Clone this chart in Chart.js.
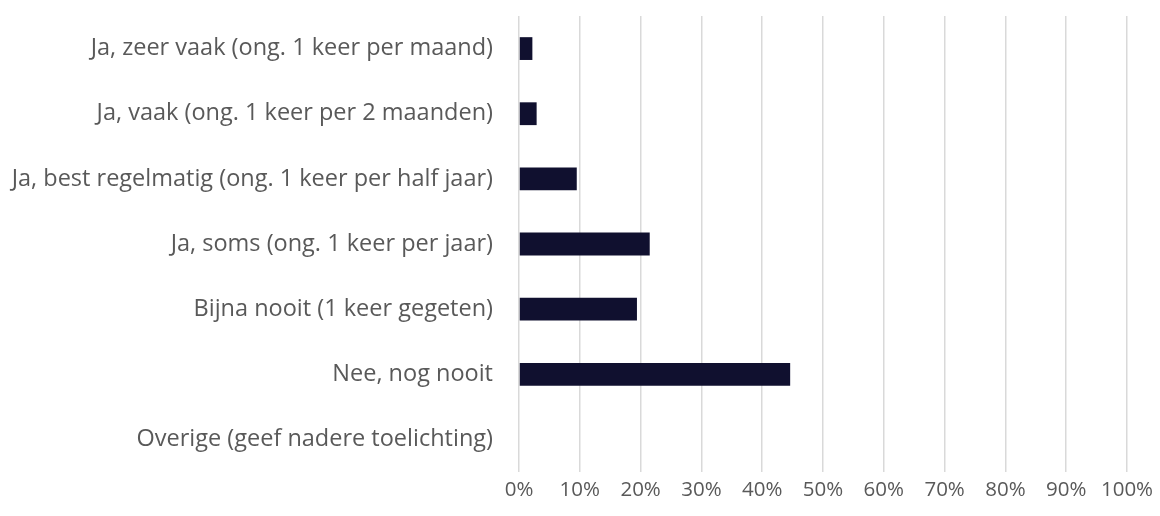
<!DOCTYPE html>
<html>
<head>
<meta charset="utf-8">
<script src="https://cdn.jsdelivr.net/npm/chart.js@4/dist/chart.umd.min.js"></script>
<style>
  html, body { margin: 0; padding: 0; background: #fff; }
  #wrap { width: 1160px; height: 516px; position: relative; }
</style>
</head>
<body>
<div id="wrap"><canvas id="chart"></canvas></div>
<script>
const categories = [
  'Ja, zeer vaak (ong. 1 keer per maand)',
  'Ja, vaak (ong. 1 keer per 2 maanden)',
  'Ja, best regelmatig (ong. 1 keer per half jaar)',
  'Ja, soms (ong. 1 keer per jaar)',
  'Bijna nooit (1 keer gegeten)',
  'Nee, nog nooit',
  'Overige (geef nadere toelichting)'
];
const shares = [2.2, 2.9, 9.5, 21.5, 19.4, 44.6, 0];
const xTicks = [0, 10, 20, 30, 40, 50, 60, 70, 80, 90, 100];

const ctx = document.getElementById('chart');
new Chart(ctx, {
  type: 'bar',
  data: {
    labels: categories,
    datasets: [{
      data: shares,
      backgroundColor: '#10102f',
      borderWidth: 0,
      barPercentage: 0.7,
      categoryPercentage: 0.5,
    }]
  },
  options: {
    indexAxis: 'y',
    responsive: true,
    maintainAspectRatio: false,
    animation: false,
    layout: { padding: { top: 16, right: 33, left: 0, bottom: 0 } },
    plugins: {
      legend: { display: false },
      tooltip: { enabled: false }
    },
    scales: {
      x: {
        min: 0,
        max: 100,
        afterBuildTicks: (axis) => { axis.ticks = xTicks.map(v => ({ value: v })); },
        grid: { color: '#d9d9d9', lineWidth: 1.5, drawTicks: false },
        border: { display: false },
        ticks: {
          color: '#595959',
          font: { family: 'Open Sans', size: 20.5 },
          padding: 6,
          callback: (val) => val + '%',
          maxRotation: 0,
        },
        afterFit: (axis) => { axis.height = 44; axis.paddingLeft = 0; axis.paddingRight = 0; }
      },
      y: {
        grid: { display: false, drawTicks: false },
        border: { display: false },
        ticks: {
          color: '#595959',
          font: { family: 'Open Sans', size: 23.5 },
          padding: 26,
        },
        afterFit: (axis) => { axis.width = 519; axis.paddingTop = 0; axis.paddingBottom = 0; }
      }
    }
  }
});
</script>
</body>
</html>
